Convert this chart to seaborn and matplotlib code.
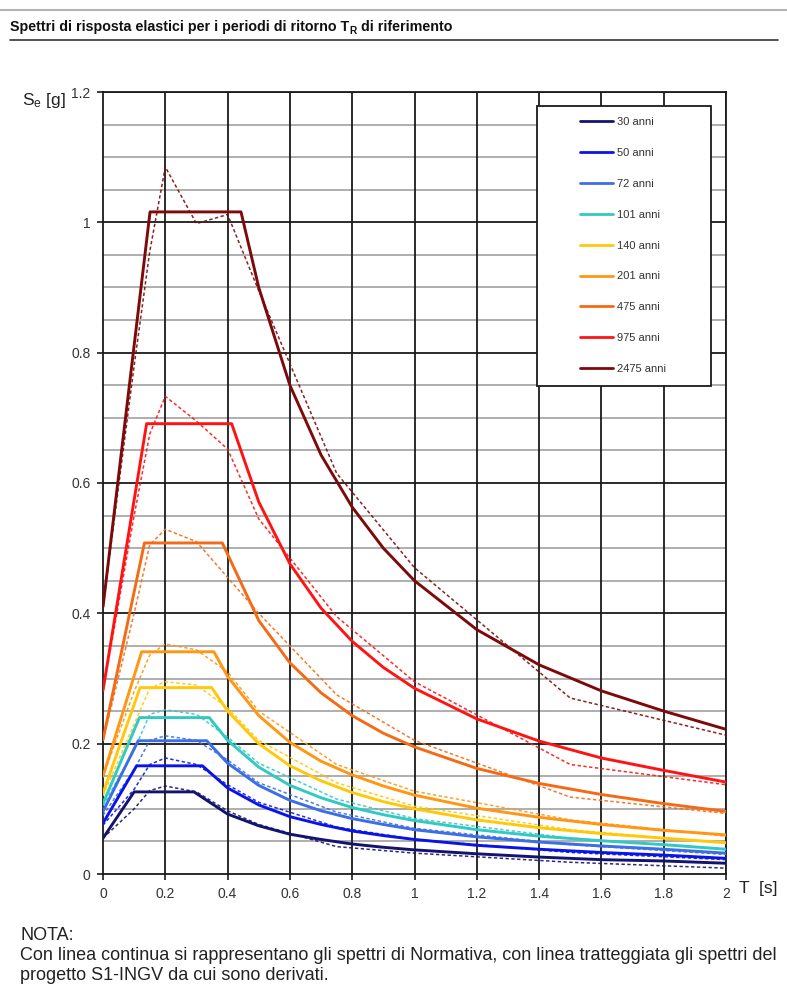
import matplotlib
matplotlib.use("Agg")
import matplotlib.pyplot as plt
import seaborn as sns
import pandas as pd
from matplotlib.lines import Line2D
from matplotlib.patches import Rectangle
from matplotlib.font_manager import FontProperties

# ---------------- data ----------------
labels = ["30 anni", "50 anni", "72 anni", "101 anni", "140 anni",
          "201 anni", "475 anni", "975 anni", "2475 anni"]
colors = ["#14146e", "#0a14e6", "#3c6ee6", "#32c8c3", "#ffc80a",
          "#ff9614", "#f56a14", "#ff1414", "#7d0a0a"]

# Normativa (solid) spectra: periods and ordinates
t_30 = [0, 0.100, 0.292, 0.4, 0.5, 0.6, 0.7, 0.8, 0.9, 1.0, 1.2, 1.4, 1.6, 1.8, 2.0]
se_30 = [0.055, 0.126, 0.126, 0.092, 0.074, 0.061, 0.053, 0.046, 0.041, 0.037, 0.031, 0.026, 0.022, 0.020, 0.0165]
t_50 = [0, 0.108, 0.319, 0.4, 0.5, 0.6, 0.7, 0.8, 0.9, 1.0, 1.2, 1.4, 1.6, 1.8, 2.0]
se_50 = [0.078, 0.166, 0.166, 0.132, 0.106, 0.088, 0.076, 0.066, 0.059, 0.053, 0.044, 0.038, 0.033, 0.029, 0.024]
t_72 = [0, 0.113, 0.333, 0.4, 0.5, 0.6, 0.7, 0.8, 0.9, 1.0, 1.2, 1.4, 1.6, 1.8, 2.0]
se_72 = [0.096, 0.2045, 0.2045, 0.170, 0.136, 0.113, 0.097, 0.085, 0.076, 0.068, 0.057, 0.049, 0.043, 0.038, 0.032]
t_101 = [0, 0.117, 0.341, 0.4, 0.5, 0.6, 0.7, 0.8, 0.9, 1.0, 1.2, 1.4, 1.6, 1.8, 2.0]
se_101 = [0.108, 0.240, 0.240, 0.205, 0.164, 0.136, 0.117, 0.102, 0.091, 0.082, 0.068, 0.058, 0.051, 0.045, 0.038]
t_140 = [0, 0.119, 0.349, 0.4, 0.5, 0.6, 0.7, 0.8, 0.9, 1.0, 1.2, 1.4, 1.6, 1.8, 2.0]
se_140 = [0.124, 0.286, 0.286, 0.250, 0.200, 0.166, 0.143, 0.125, 0.111, 0.100, 0.083, 0.071, 0.062, 0.055, 0.048]
t_201 = [0, 0.124, 0.356, 0.4, 0.5, 0.6, 0.7, 0.8, 0.9, 1.0, 1.2, 1.4, 1.6, 1.8, 2.0]
se_201 = [0.150, 0.341, 0.341, 0.303, 0.243, 0.202, 0.173, 0.152, 0.135, 0.121, 0.101, 0.087, 0.076, 0.067, 0.060]
t_475 = [0, 0.133, 0.383, 0.5, 0.6, 0.7, 0.8, 0.9, 1.0, 1.2, 1.4, 1.6, 1.8, 2.0]
se_475 = [0.206, 0.508, 0.508, 0.389, 0.324, 0.278, 0.243, 0.216, 0.195, 0.162, 0.139, 0.122, 0.108, 0.096]
t_975 = [0, 0.140, 0.413, 0.5, 0.6, 0.7, 0.8, 0.9, 1.0, 1.2, 1.4, 1.6, 1.8, 2.0]
se_975 = [0.282, 0.691, 0.691, 0.571, 0.476, 0.408, 0.357, 0.317, 0.285, 0.238, 0.204, 0.178, 0.159, 0.141]
t_2475 = [0, 0.151, 0.443, 0.5, 0.6, 0.7, 0.8, 0.9, 1.0, 1.2, 1.4, 1.6, 1.8, 2.0]
se_2475 = [0.410, 1.016, 1.016, 0.900, 0.750, 0.643, 0.563, 0.500, 0.450, 0.375, 0.321, 0.281, 0.250, 0.222]

# S1-INGV (dashed) spectra
t_ingv = [0, 0.1, 0.15, 0.2, 0.3, 0.4, 0.5, 0.75, 1.0, 1.5, 2.0]
ingv_30 = [0.055, 0.100, 0.128, 0.135, 0.126, 0.097, 0.076, 0.042, 0.032, 0.018, 0.009]
ingv_50 = [0.075, 0.130, 0.168, 0.178, 0.168, 0.137, 0.110, 0.072, 0.053, 0.033, 0.022]
ingv_72 = [0.090, 0.160, 0.205, 0.212, 0.205, 0.175, 0.140, 0.095, 0.070, 0.045, 0.030]
ingv_101 = [0.105, 0.190, 0.245, 0.252, 0.245, 0.210, 0.170, 0.115, 0.085, 0.055, 0.038]
ingv_140 = [0.120, 0.230, 0.285, 0.295, 0.290, 0.255, 0.205, 0.140, 0.104, 0.068, 0.047]
ingv_201 = [0.150, 0.280, 0.336, 0.353, 0.344, 0.310, 0.250, 0.168, 0.127, 0.083, 0.058]
ingv_475 = [0.205, 0.400, 0.505, 0.529, 0.510, 0.455, 0.400, 0.275, 0.205, 0.118, 0.093]
ingv_975 = [0.280, 0.550, 0.675, 0.733, 0.695, 0.652, 0.545, 0.395, 0.295, 0.168, 0.137]
ingv_2475 = [0.410, 0.780, 0.955, 1.085, 0.998, 1.012, 0.895, 0.615, 0.470, 0.270, 0.213]

ntc_t = [t_30, t_50, t_72, t_101, t_140, t_201, t_475, t_975, t_2475]
ntc_se = [se_30, se_50, se_72, se_101, se_140, se_201, se_475, se_975, se_2475]
ingv_se = [ingv_30, ingv_50, ingv_72, ingv_101, ingv_140, ingv_201, ingv_475, ingv_975, ingv_2475]

x_ticks = [0, 0.2, 0.4, 0.6, 0.8, 1.0, 1.2, 1.4, 1.6, 1.8, 2.0]
x_ticklabels = ["0", "0.2", "0.4", "0.6", "0.8", "1", "1.2", "1.4", "1.6", "1.8", "2"]
y_ticks = [0, 0.2, 0.4, 0.6, 0.8, 1.0, 1.2]
y_ticklabels = ["0", "0.2", "0.4", "0.6", "0.8", "1", "1.2"]

# ---------------- styling ----------------
sns.set_theme(style="white")
plt.rcParams["font.family"] = ["Liberation Sans", "DejaVu Sans"]
plt.rcParams["mathtext.fontset"] = "custom"
plt.rcParams["mathtext.rm"] = "Liberation Sans"
plt.rcParams["mathtext.it"] = "Liberation Sans:italic"
plt.rcParams["mathtext.bf"] = "Liberation Sans:bold"

W, H = 787, 992
fig = plt.figure(figsize=(W / 100, H / 100), dpi=100)
ax_l, ax_r, ax_t, ax_b = 103, 726, 92, 874
ax = fig.add_axes([ax_l / W, 1 - ax_b / H, (ax_r - ax_l) / W, (ax_b - ax_t) / H])

# grid
for yv in [i * 0.05 for i in range(1, 24)]:
    if abs(yv / 0.2 - round(yv / 0.2)) > 1e-6:
        ax.axhline(yv, color="#a8a8a8", lw=1.3, zorder=1)
for yv in y_ticks[1:]:
    ax.axhline(yv, color="#1a1a1a", lw=1.3, zorder=1.5)
for xv in x_ticks[1:]:
    ax.axvline(xv, color="#1a1a1a", lw=1.3, zorder=1.5)

# curves
for i in range(len(labels)):
    df_i = pd.DataFrame({"T": t_ingv, "Se": ingv_se[i]})
    sns.lineplot(data=df_i, x="T", y="Se", ax=ax, color=colors[i], lw=1.1,
                 estimator=None, sort=False, zorder=3, alpha=0.9)
    ax.lines[-1].set_dashes((2.2, 1.6))
for i in range(len(labels)):
    df_n = pd.DataFrame({"T": ntc_t[i], "Se": ntc_se[i]})
    sns.lineplot(data=df_n, x="T", y="Se", ax=ax, color=colors[i], lw=2.1,
                 estimator=None, sort=False, zorder=4)

ax.set_xlim(0, 2)
ax.set_ylim(0, 1.2)
ax.set_xticks(x_ticks)
ax.set_xticklabels(x_ticklabels)
ax.set_yticks(y_ticks)
ax.set_yticklabels(y_ticklabels)
ax.set_xlabel("")
ax.set_ylabel("")
ax.tick_params(axis="both", which="major", length=4, width=1.2, color="#1a1a1a",
               labelsize=10, labelcolor="#333333", direction="out", pad=5)
ax.tick_params(left=True, bottom=True)
for s in ax.spines.values():
    s.set_color("#1a1a1a")
    s.set_linewidth(1.3)

# legend box + entries
x0 = (537 - ax_l) / (ax_r - ax_l)
x1 = (711 - ax_l) / (ax_r - ax_l)
y1 = (ax_b - 106) / (ax_b - ax_t)
y0 = (ax_b - 386) / (ax_b - ax_t)
ax.add_patch(Rectangle((x0, y0), x1 - x0, y1 - y0, transform=ax.transAxes,
                       facecolor="white", edgecolor="#1a1a1a", lw=1.3, zorder=6))
handles = [Line2D([], [], color=c, lw=2.0) for c in colors]
leg = ax.legend(handles, labels, loc="upper left",
                bbox_to_anchor=((580 - ax_l) / (ax_r - ax_l), (ax_b - 117) / (ax_b - ax_t)),
                frameon=False, fontsize=8, handlelength=3.0, handletextpad=0.3,
                labelspacing=1.88, borderpad=0, borderaxespad=0)
leg.set_zorder(7)
for t in leg.get_texts():
    t.set_color("#333333")

# axis labels
fig.text(22 / W, 1 - 101 / H, r"S$_{\mathrm{e}}$ [g]", fontsize=12.5, color="#222222",
         ha="left", va="center")
fig.text(739 / W, 1 - 889 / H, "T  [s]", fontsize=12.5, color="#222222",
         ha="left", va="center")

# title and rules
fig.add_artist(Line2D([0, 1], [1 - 10 / H, 1 - 10 / H], color="#b4b4b4", lw=1.5,
                      transform=fig.transFigure))
fp_main = FontProperties(family="Liberation Sans", weight="bold", size=10.3)
fp_sub = FontProperties(family="Liberation Sans", weight="bold", size=7.3)
t1 = fig.text(10 / W, 1 - 31 / H, "Spettri di risposta elastici per i periodi di ritorno T",
              fontproperties=fp_main, color="#111111", ha="left", va="baseline")
fig.canvas.draw()
bb = t1.get_window_extent()
t2 = fig.text((bb.x1 + 0.5) / W, 1 - 34 / H, "R", fontproperties=fp_sub, color="#111111",
              ha="left", va="baseline")
fig.canvas.draw()
bb2 = t2.get_window_extent()
fig.text(bb2.x1 / W, 1 - 31 / H, " di riferimento", fontproperties=fp_main,
         color="#111111", ha="left", va="baseline")
fig.add_artist(Line2D([10 / W, 778 / W], [1 - 40 / H, 1 - 40 / H], color="#333333", lw=1.2,
                      transform=fig.transFigure))

# note
fig.text(20 / W, 1 - 936 / H, "NOTA:", fontsize=13.0, color="#222222", ha="left", va="center")
fig.text(20 / W, 1 - 956 / H,
         "Con linea continua si rappresentano gli spettri di Normativa, con linea tratteggiata gli spettri del",
         fontsize=13.0, color="#222222", ha="left", va="center")
fig.text(20 / W, 1 - 976 / H, "progetto S1-INGV da cui sono derivati.", fontsize=13.0,
         color="#222222", ha="left", va="center")

fig.savefig("out.png", dpi=100, facecolor="white")
